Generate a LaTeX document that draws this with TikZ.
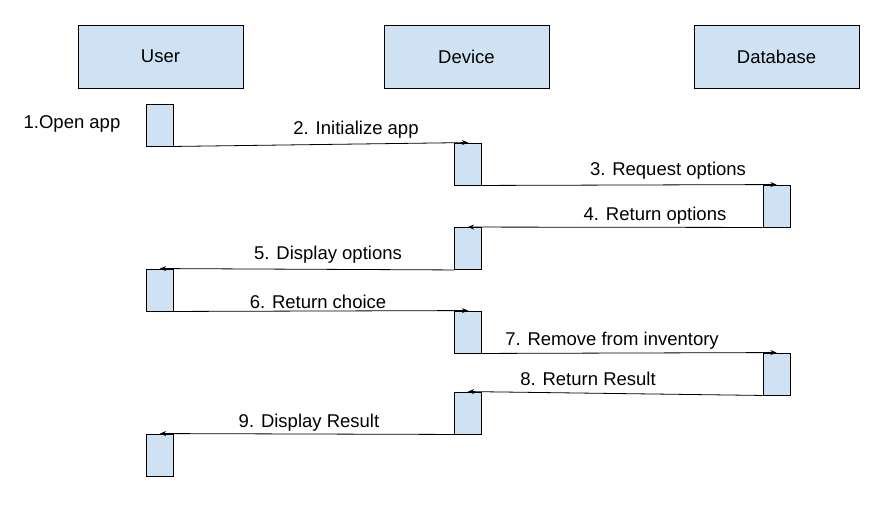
\documentclass[tikz,border=0pt]{standalone}
\usepackage{fontspec}
\setmainfont{Liberation Sans}
\usetikzlibrary{arrows.meta,backgrounds}
\definecolor{boxfill}{HTML}{CFE2F3}
\tikzset{
  head/.style={draw=black, fill=boxfill, line width=0.9pt, minimum width=165pt, minimum height=63pt, inner sep=0pt, font=\fontsize{18.5}{22}\selectfont},
  act/.style={draw=black, fill=boxfill, line width=0.9pt, minimum width=27pt, minimum height=42pt, inner sep=0pt},
  msg/.style={draw=black, line width=0.8pt, -{Stealth[length=6pt,width=5pt]}},
  life/.style={draw=black, line width=0.9pt, dash pattern=on 5pt off 3pt},
  lbl/.style={font=\fontsize{18.5}{22}\selectfont, inner sep=0pt}
}
\begin{document}
\begin{tikzpicture}[x=1pt,y=-1pt]
\useasboundingbox[fill=white] (0,0) rectangle (890,514);
% headers
\node[head] (hu) at (160.5,56.5) {User};
\node[head] (hd) at (466.5,56.5) {Device};
\node[head] (hb) at (776.5,56.5) {Database};
% activation boxes
\node[act] (u1) at (160,125) {};
\node[act] (d1) at (468,164) {};
\node[act] (b1) at (776.5,206) {};
\node[act] (d2) at (468,248.5) {};
\node[act] (u2) at (160,290) {};
\node[act] (d3) at (468,332) {};
\node[act] (b2) at (776.5,374) {};
\node[act] (d4) at (468,413) {};
\node[act] (u3) at (160,455) {};
% lifelines
\begin{scope}[on background layer]
\draw[life] (hu.south) -- (u3.north);
\draw[life] (hd.south) -- (d4.north);
\draw[life] (hb.south) -- (b2.north);
\end{scope}
% messages
\draw[msg] (u1.south east) -- (d1.north);
\draw[msg] (d1.south east) -- (b1.north);
\draw[msg] (b1.south west) -- (d2.north);
\draw[msg] (d2.south west) -- (u2.north);
\draw[msg] (u2.south east) -- (d3.north);
\draw[msg] (d3.south east) -- (b2.north);
\draw[msg] (b2.south west) -- (d4.north);
\draw[msg] (d4.south west) -- (u3.north);
% labels
\node[lbl] (l1) at (72,124) {1.Open app};
\node[lbl] (l2) at (356,130) {2. Initialize app};
\node[lbl] (l3) at (668,171) {3. Request options};
\node[lbl] (l4) at (655,216) {4. Return options};
\node[lbl] (l5) at (328,255) {5. Display options};
\node[lbl] (l6) at (318,302) {6. Return choice};
\node[lbl] (l7) at (612,341) {7. Remove from inventory};
\node[lbl] (l8) at (588,379) {8. Return Result};
\node[lbl] (l9) at (309,423) {9. Display Result};
\end{tikzpicture}
\end{document}
